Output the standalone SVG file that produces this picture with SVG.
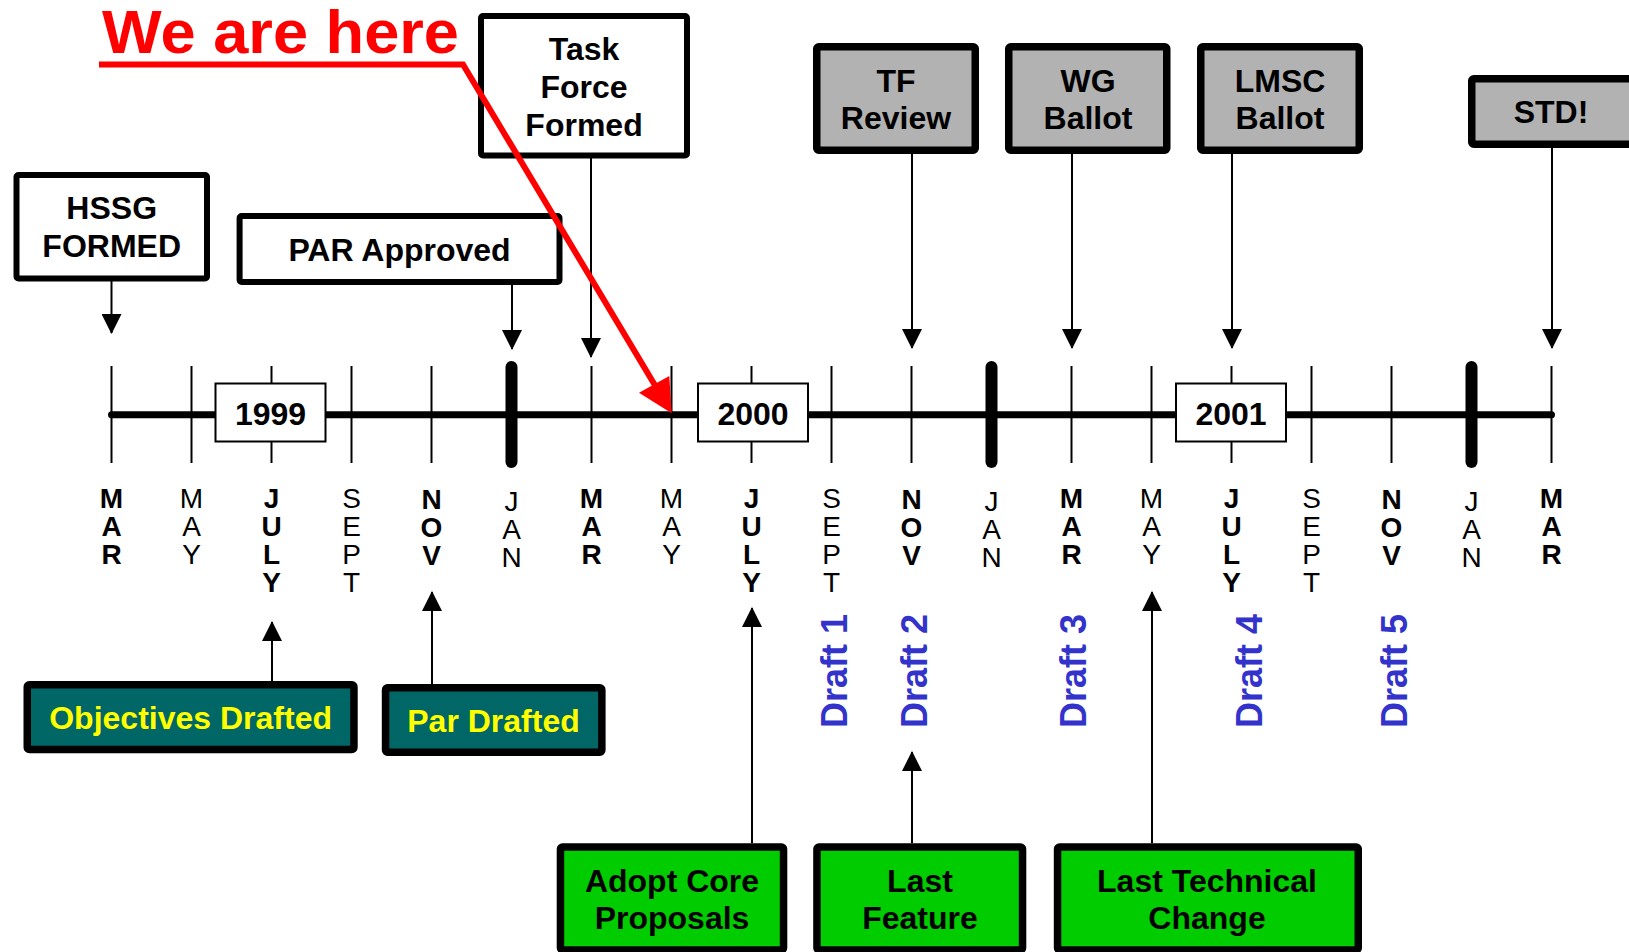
<svg xmlns="http://www.w3.org/2000/svg" width="1629" height="952" viewBox="0 0 1629 952">
<style>
text{font-family:"Liberation Sans",Arial,sans-serif;}
.lbl{font-size:32px;font-weight:bold;text-anchor:middle;fill:#000;}
.wbox{fill:#fff;stroke:#000;stroke-width:6;}
.gbox{fill:#b2b2b2;stroke:#000;stroke-width:7.5;}
.tbox{fill:#006666;stroke:#000;stroke-width:7.5;}
.grbox{fill:#00cc00;stroke:#000;stroke-width:7.5;}
.ybox{fill:#fff;stroke:#000;stroke-width:2;}
.yel{fill:#ffff00;}
.conn{stroke:#000;stroke-width:2;fill:none;marker-end:url(#ah);}
.tick{stroke:#000;stroke-width:2;}
.jan{stroke:#000;stroke-width:12;stroke-linecap:round;}
.mb{font-size:28px;font-weight:bold;text-anchor:middle;}
.mr{font-size:28px;text-anchor:middle;}
.draft{font-size:36px;font-weight:bold;fill:#3333cc;}
</style>
<defs>
<marker id="ah" markerUnits="userSpaceOnUse" markerWidth="20" markerHeight="20" refX="19" refY="10" orient="auto">
<path d="M0,0 L20,10 L0,20 Z" fill="#000"/>
</marker>
</defs>
<rect width="1629" height="952" fill="#fff"/>

<g id="timeline">
<line x1="111.5" y1="414.7" x2="1551.5" y2="414.7" stroke="#000" stroke-width="7" stroke-linecap="round"/>
<line class="tick" x1="111.5" y1="366" x2="111.5" y2="463"/>
<line class="tick" x1="191.5" y1="366" x2="191.5" y2="463"/>
<line class="tick" x1="271.5" y1="366" x2="271.5" y2="463"/>
<line class="tick" x1="351.5" y1="366" x2="351.5" y2="463"/>
<line class="tick" x1="431.5" y1="366" x2="431.5" y2="463"/>
<line class="jan" x1="511.5" y1="367" x2="511.5" y2="462"/>
<line class="tick" x1="591.5" y1="366" x2="591.5" y2="463"/>
<line class="tick" x1="671.5" y1="366" x2="671.5" y2="463"/>
<line class="tick" x1="751.5" y1="366" x2="751.5" y2="463"/>
<line class="tick" x1="831.5" y1="366" x2="831.5" y2="463"/>
<line class="tick" x1="911.5" y1="366" x2="911.5" y2="463"/>
<line class="jan" x1="991.5" y1="367" x2="991.5" y2="462"/>
<line class="tick" x1="1071.5" y1="366" x2="1071.5" y2="463"/>
<line class="tick" x1="1151.5" y1="366" x2="1151.5" y2="463"/>
<line class="tick" x1="1231.5" y1="366" x2="1231.5" y2="463"/>
<line class="tick" x1="1311.5" y1="366" x2="1311.5" y2="463"/>
<line class="tick" x1="1391.5" y1="366" x2="1391.5" y2="463"/>
<line class="jan" x1="1471.5" y1="367" x2="1471.5" y2="462"/>
<line class="tick" x1="1551.5" y1="366" x2="1551.5" y2="463"/>
</g>

<g id="year-1999"><rect class="ybox" x="215.5" y="383.5" width="110" height="58"/><text class="lbl" x="270.5" y="425">1999</text></g>
<g id="year-2000"><rect class="ybox" x="698" y="383.5" width="110" height="58"/><text class="lbl" x="753" y="425">2000</text></g>
<g id="year-2001"><rect class="ybox" x="1176" y="383.5" width="110" height="58"/><text class="lbl" x="1231" y="425">2001</text></g>

<g id="months">
<text class="mb"><tspan x="111.5" y="508">M</tspan><tspan x="111.5" dy="28">A</tspan><tspan x="111.5" dy="28">R</tspan></text>
<text class="mr"><tspan x="191.5" y="508">M</tspan><tspan x="191.5" dy="28">A</tspan><tspan x="191.5" dy="28">Y</tspan></text>
<text class="mb"><tspan x="271.5" y="508">J</tspan><tspan x="271.5" dy="28">U</tspan><tspan x="271.5" dy="28">L</tspan><tspan x="271.5" dy="28">Y</tspan></text>
<text class="mr"><tspan x="351.5" y="508">S</tspan><tspan x="351.5" dy="28">E</tspan><tspan x="351.5" dy="28">P</tspan><tspan x="351.5" dy="28">T</tspan></text>
<text class="mb"><tspan x="431.5" y="509">N</tspan><tspan x="431.5" dy="28">O</tspan><tspan x="431.5" dy="28">V</tspan></text>
<text class="mr"><tspan x="511.5" y="511">J</tspan><tspan x="511.5" dy="28">A</tspan><tspan x="511.5" dy="28">N</tspan></text>
<text class="mb"><tspan x="591.5" y="508">M</tspan><tspan x="591.5" dy="28">A</tspan><tspan x="591.5" dy="28">R</tspan></text>
<text class="mr"><tspan x="671.5" y="508">M</tspan><tspan x="671.5" dy="28">A</tspan><tspan x="671.5" dy="28">Y</tspan></text>
<text class="mb"><tspan x="751.5" y="508">J</tspan><tspan x="751.5" dy="28">U</tspan><tspan x="751.5" dy="28">L</tspan><tspan x="751.5" dy="28">Y</tspan></text>
<text class="mr"><tspan x="831.5" y="508">S</tspan><tspan x="831.5" dy="28">E</tspan><tspan x="831.5" dy="28">P</tspan><tspan x="831.5" dy="28">T</tspan></text>
<text class="mb"><tspan x="911.5" y="509">N</tspan><tspan x="911.5" dy="28">O</tspan><tspan x="911.5" dy="28">V</tspan></text>
<text class="mr"><tspan x="991.5" y="511">J</tspan><tspan x="991.5" dy="28">A</tspan><tspan x="991.5" dy="28">N</tspan></text>
<text class="mb"><tspan x="1071.5" y="508">M</tspan><tspan x="1071.5" dy="28">A</tspan><tspan x="1071.5" dy="28">R</tspan></text>
<text class="mr"><tspan x="1151.5" y="508">M</tspan><tspan x="1151.5" dy="28">A</tspan><tspan x="1151.5" dy="28">Y</tspan></text>
<text class="mb"><tspan x="1231.5" y="508">J</tspan><tspan x="1231.5" dy="28">U</tspan><tspan x="1231.5" dy="28">L</tspan><tspan x="1231.5" dy="28">Y</tspan></text>
<text class="mr"><tspan x="1311.5" y="508">S</tspan><tspan x="1311.5" dy="28">E</tspan><tspan x="1311.5" dy="28">P</tspan><tspan x="1311.5" dy="28">T</tspan></text>
<text class="mb"><tspan x="1391.5" y="509">N</tspan><tspan x="1391.5" dy="28">O</tspan><tspan x="1391.5" dy="28">V</tspan></text>
<text class="mr"><tspan x="1471.5" y="511">J</tspan><tspan x="1471.5" dy="28">A</tspan><tspan x="1471.5" dy="28">N</tspan></text>
<text class="mb"><tspan x="1551.5" y="508">M</tspan><tspan x="1551.5" dy="28">A</tspan><tspan x="1551.5" dy="28">R</tspan></text>
</g>

<g id="drafts">
<text class="draft" transform="translate(846.5,728) rotate(-90)">Draft 1</text>
<text class="draft" transform="translate(926.5,728) rotate(-90)">Draft 2</text>
<text class="draft" transform="translate(1086,728) rotate(-90)">Draft 3</text>
<text class="draft" transform="translate(1261.5,728) rotate(-90)">Draft 4</text>
<text class="draft" transform="translate(1406.5,728) rotate(-90)">Draft 5</text>
</g>

<g id="connectors">
<line class="conn" x1="111.5" y1="281" x2="111.5" y2="333"/>
<line class="conn" x1="512" y1="285" x2="512" y2="349"/>
<line class="conn" x1="591" y1="158" x2="591" y2="357"/>
<line class="conn" x1="912" y1="154" x2="912" y2="348"/>
<line class="conn" x1="1072" y1="154" x2="1072" y2="348"/>
<line class="conn" x1="1232" y1="154" x2="1232" y2="348"/>
<line class="conn" x1="1552" y1="148" x2="1552" y2="348"/>
<line class="conn" x1="272" y1="681" x2="272" y2="622"/>
<line class="conn" x1="432" y1="684" x2="432" y2="592"/>
<line class="conn" x1="752" y1="843" x2="752" y2="608"/>
<line class="conn" x1="912" y1="843" x2="912" y2="752"/>
<line class="conn" x1="1152" y1="843" x2="1152" y2="592"/>
</g>

<g id="hssg-formed"><rect class="wbox" x="16.5" y="175" width="190.5" height="103.5" rx="2"/><text class="lbl" x="111.7" y="219">HSSG</text><text class="lbl" x="111.7" y="257">FORMED</text></g>
<g id="par-approved"><rect class="wbox" x="239.6" y="216" width="319.9" height="66" rx="2"/><text class="lbl" x="399.5" y="261">PAR Approved</text></g>
<g id="task-force-formed"><rect class="wbox" x="481" y="16" width="206" height="139.5" rx="2"/><text class="lbl" x="584" y="60">Task</text><text class="lbl" x="584" y="98">Force</text><text class="lbl" x="584" y="136">Formed</text></g>
<g id="tf-review"><rect class="gbox" x="816.75" y="46.75" width="158.5" height="103.5" rx="2"/><text class="lbl" x="896" y="92">TF</text><text class="lbl" x="896" y="129">Review</text></g>
<g id="wg-ballot"><rect class="gbox" x="1008.75" y="46.75" width="158" height="103.5" rx="2"/><text class="lbl" x="1088" y="92">WG</text><text class="lbl" x="1088" y="129">Ballot</text></g>
<g id="lmsc-ballot"><rect class="gbox" x="1200.75" y="46.75" width="158.5" height="103.5" rx="2"/><text class="lbl" x="1280" y="92">LMSC</text><text class="lbl" x="1280" y="129">Ballot</text></g>
<g id="std"><rect class="gbox" x="1471.75" y="78.75" width="170" height="65.5" rx="2"/><text class="lbl" x="1551" y="123">STD!</text></g>

<g id="objectives-drafted"><rect class="tbox" x="27.25" y="684.75" width="326.7" height="64.8" rx="2"/><text class="lbl yel" x="190.6" y="729">Objectives Drafted</text></g>
<g id="par-drafted"><rect class="tbox" x="385.55" y="687.75" width="216.3" height="64.5" rx="2"/><text class="lbl yel" x="493.5" y="731.5">Par Drafted</text></g>
<g id="adopt-core-proposals"><rect class="grbox" x="560.45" y="847.05" width="223.1" height="103" rx="2"/><text class="lbl" x="672" y="891.7">Adopt Core</text><text class="lbl" x="672" y="929">Proposals</text></g>
<g id="last-feature"><rect class="grbox" x="816.95" y="847.05" width="205.6" height="103" rx="2"/><text class="lbl" x="920" y="891.7">Last</text><text class="lbl" x="920" y="929">Feature</text></g>
<g id="last-technical-change"><rect class="grbox" x="1057.55" y="847.05" width="300.7" height="103" rx="2"/><text class="lbl" x="1207" y="891.7">Last Technical</text><text class="lbl" x="1207" y="929">Change</text></g>

<g id="we-are-here">
<text x="102" y="53" font-size="62" font-weight="bold" fill="#ff0000" textLength="357" lengthAdjust="spacingAndGlyphs">We are here</text>
<path d="M99,64.5 H463 L656,387" fill="none" stroke="#ff0000" stroke-width="6" stroke-linejoin="miter"/>
<polygon points="671.7,413.3 639,392.7 669.3,376" fill="#ff0000"/>
</g>
</svg>
